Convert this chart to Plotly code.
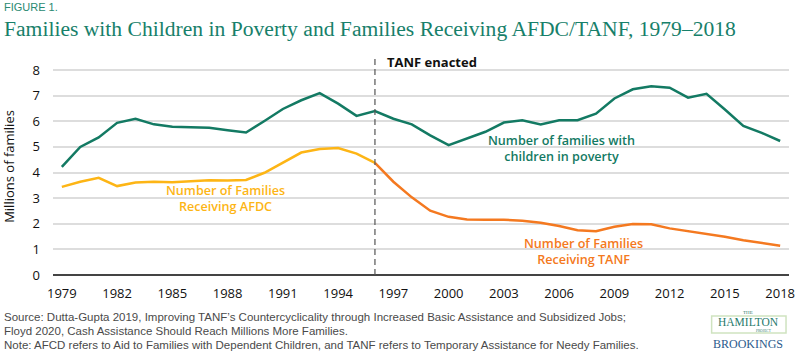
import plotly.graph_objects as go

years = list(range(1979, 2019))
poverty = [4.22, 5.00, 5.37, 5.94, 6.10, 5.88, 5.79, 5.78, 5.75, 5.65, 5.56, 6.01,
           6.48, 6.82, 7.10, 6.69, 6.21, 6.40, 6.10, 5.88, 5.45, 5.07, 5.33, 5.59,
           5.95, 6.04, 5.88, 6.04, 6.04, 6.30, 6.89, 7.25, 7.37, 7.31, 6.92, 7.07,
           6.46, 5.82, 5.55, 5.23]
afdc_years = list(range(1979, 1997))
afdc = [3.44, 3.64, 3.79, 3.47, 3.61, 3.64, 3.62, 3.67, 3.70, 3.69, 3.71, 3.99,
        4.40, 4.78, 4.92, 4.96, 4.74, 4.38]
tanf_years = list(range(1996, 2019))
tanf = [4.38, 3.64, 3.03, 2.51, 2.27, 2.17, 2.16, 2.16, 2.12, 2.04, 1.91, 1.75,
        1.71, 1.88, 1.99, 1.98, 1.82, 1.71, 1.62, 1.49, 1.36, 1.24, 1.14]
x_ticks = list(range(1979, 2019, 3))
y_ticks = list(range(0, 9))
tanf_year = 1996

GREEN = "#137a63"
YELLOW = "#fdb515"
ORANGE = "#f47920"
SANS = "Open Sans, Lato, sans-serif"

W, H = 800, 357
L, R, T, B = 53, 5, 58, 82


def px(xp):
    return (xp - L) / (W - L - R)


def py(yp):
    return (H - B - yp) / (H - T - B)


fig = go.Figure()
fig.add_trace(go.Scatter(x=years, y=poverty, mode="lines",
                         line=dict(color=GREEN, width=2.5), hoverinfo="skip"))
fig.add_trace(go.Scatter(x=afdc_years, y=afdc, mode="lines",
                         line=dict(color=YELLOW, width=2.5), hoverinfo="skip"))
fig.add_trace(go.Scatter(x=tanf_years, y=tanf, mode="lines",
                         line=dict(color=ORANGE, width=2.5), hoverinfo="skip"))

fig.add_shape(type="line", xref="x", yref="paper", x0=tanf_year, x1=tanf_year,
              y0=0, y1=1, line=dict(color="#555555", width=1.2, dash="6px,4px"))

ann = []
ann.append(dict(x=tanf_year, y=8.32, xref="x", yref="y", xanchor="left", yanchor="middle",
                xshift=10, text="<b>TANF enacted</b>", showarrow=False,
                font=dict(family=SANS, size=13, color="#111111")))
ann.append(dict(x=2006.15, y=4.94, xref="x", yref="y", xanchor="center", yanchor="middle",
                text="Number of families with<br>children in poverty", showarrow=False,
                font=dict(family=SANS, size=12.6, color=GREEN, weight=600)))
ann.append(dict(x=1987.86, y=2.99, xref="x", yref="y", xanchor="center", yanchor="middle",
                text="Number of Families<br>Receiving AFDC", showarrow=False,
                font=dict(family=SANS, size=12.6, color=YELLOW, weight=600)))
ann.append(dict(x=2007.33, y=0.925, xref="x", yref="y", xanchor="center", yanchor="middle",
                text="Number of Families<br>Receiving TANF", showarrow=False,
                font=dict(family=SANS, size=12.6, color=ORANGE, weight=600)))

# Titles
ann.append(dict(x=px(2), y=py(6.5), xref="paper", yref="paper", xanchor="left", yanchor="middle",
                text="FIGURE 1.", showarrow=False,
                font=dict(family="Liberation Sans, Arial, sans-serif", size=11, color="#2a8a72")))
ann.append(dict(x=px(2), y=py(29), xref="paper", yref="paper", xanchor="left", yanchor="middle",
                text="Families with Children in Poverty and Families Receiving AFDC/TANF, 1979–2018",
                showarrow=False,
                font=dict(family="Liberation Serif, Times New Roman, serif", size=21.6, color="#17806a")))

# Footnotes
notes = [
    ("Source: Dutta-Gupta 2019, Improving TANF’s Countercyclicality through Increased Basic Assistance and Subsidized Jobs;", 317),
    ("Floyd 2020, Cash Assistance Should Reach Millions More Families.", 331),
    ("Note: AFCD refers to Aid to Families with Dependent Children, and TANF refers to Temporary Assistance for Needy Families.", 345),
]
for txt, yy in notes:
    ann.append(dict(x=px(2), y=py(yy), xref="paper", yref="paper", xanchor="left", yanchor="middle",
                    text=txt, showarrow=False,
                    font=dict(family="Liberation Sans, Arial, sans-serif", size=11.5, color="#4a4a4a")))

# Logo
fig.add_shape(type="rect", xref="paper", yref="paper", x0=px(717), x1=px(792), y0=py(333), y1=py(316),
              line=dict(color="#cfe3c0", width=1.5), fillcolor="white")
ann.append(dict(x=px(754), y=py(312.5), xref="paper", yref="paper", xanchor="center", yanchor="middle",
                text="THE", showarrow=False,
                font=dict(family="Liberation Serif, serif", size=5, color="#1f7a6c")))
ann.append(dict(x=px(754), y=py(322), xref="paper", yref="paper", xanchor="center", yanchor="middle",
                text="HAMILTON", showarrow=False,
                font=dict(family="Liberation Serif, serif", size=11.5, color="#1f7a6c")))
ann.append(dict(x=px(770), y=py(331), xref="paper", yref="paper", xanchor="center", yanchor="middle",
                text="PROJECT", showarrow=False,
                font=dict(family="Liberation Serif, serif", size=3.5, color="#1f7a6c")))
ann.append(dict(x=px(754), y=py(343.5), xref="paper", yref="paper", xanchor="center", yanchor="middle",
                text="BROOKINGS", showarrow=False,
                font=dict(family="Liberation Serif, serif", size=12, color="#2b5a8c")))

fig.update_layout(
    width=W, height=H,
    margin=dict(l=L, r=R, t=T, b=B),
    paper_bgcolor="white", plot_bgcolor="white",
    showlegend=False,
    annotations=ann,
    xaxis=dict(range=[1978.52, 2018.48], tickmode="array", tickvals=x_ticks,
               ticktext=[str(v) for v in x_ticks], showgrid=False, zeroline=False,
               showline=False, ticks="", ticklabelstandoff=9, ticklabeloverflow="allow",
               tickfont=dict(family=SANS, size=13, color="#111111")),
    yaxis=dict(range=[0, 8.47], tickmode="array", tickvals=y_ticks,
               showgrid=True, gridcolor="#dddddd", gridwidth=1.5,
               zeroline=True, zerolinecolor="#444444", zerolinewidth=2,
               showline=False, ticks="", ticklabelstandoff=12,
               tickfont=dict(family=SANS, size=13, color="#111111"),
               title=dict(text="Millions of families", standoff=17,
                          font=dict(family=SANS, size=13, color="#111111"))),
)

fig.write_html("out.html", config={"displayModeBar": False},
               post_script="document.body.style.margin='0';document.body.style.overflow='hidden';")
